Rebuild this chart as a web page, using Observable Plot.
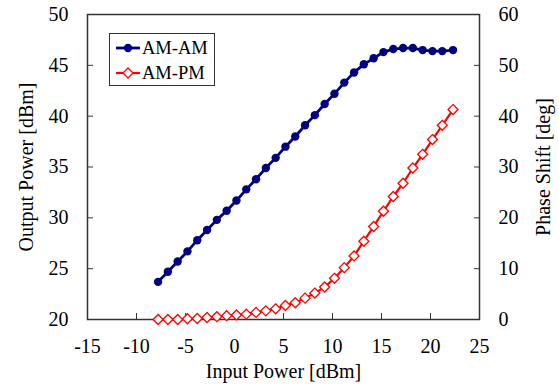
<!DOCTYPE html>
<html>
<head>
<meta charset="utf-8">
<script src="https://cdn.jsdelivr.net/npm/d3@7"></script>
<script src="https://cdn.jsdelivr.net/npm/@observablehq/plot@0.6"></script>
<style>
  html, body { margin: 0; padding: 0; background: #fff; }
  #wrap { position: relative; width: 559px; height: 385px; font-family: 'Liberation Serif', 'Times New Roman', serif; }
  #legend { position: absolute; left: 109px; top: 33px; width: 106px; height: 53px; border: 1px solid #333; background: #fff; box-sizing: border-box; }
  .item { position: absolute; left: 0; height: 24px; display: flex; align-items: center; font-size: 18.5px; color: #000; }
  .item svg { margin-left: 6px; margin-right: 2px; }
</style>
</head>
<body>
<div id="wrap">
  <div id="chart"></div>
  <div id="legend"></div>
</div>
<script>
// ---- data ----
const inputPower = [-7.8, -6.8, -5.8, -4.8, -3.8, -2.8, -1.8, -0.8, 0.2, 1.2, 2.2, 3.2, 4.2, 5.2, 6.2, 7.2, 8.2, 9.2, 10.2, 11.2, 12.2, 13.2, 14.2, 15.2, 16.2, 17.2, 18.2, 19.2, 20.2, 21.2, 22.3];
const outputPower = [23.7, 24.7, 25.7, 26.7, 27.8, 28.8, 29.8, 30.7, 31.7, 32.8, 33.8, 34.9, 35.9, 37.0, 38.0, 39.1, 40.1, 41.2, 42.2, 43.3, 44.3, 45.1, 45.7, 46.3, 46.6, 46.7, 46.7, 46.5, 46.4, 46.4, 46.5];
const phaseShift = [0, 0, 0, 0.15, 0.2, 0.4, 0.55, 0.75, 0.9, 1.05, 1.4, 1.7, 2.1, 2.75, 3.3, 4.2, 5.2, 6.4, 8.1, 10.2, 12.5, 15.4, 18.3, 21.3, 24.2, 26.8, 29.8, 32.5, 35.4, 38.2, 41.3];
const xTicks = [-15, -10, -5, 0, 5, 10, 15, 20, 25];
const leftTicks = [20, 25, 30, 35, 40, 45, 50];
const rightTicks = [0, 10, 20, 30, 40, 50, 60];
const seriesNames = ["AM-AM", "AM-PM"];
const seriesColors = ["#000080", "#ff0000"];
const xLabel = "Input Power [dBm]";
const yLeftLabel = "Output Power [dBm]";
const yRightLabel = "Phase Shift [deg]";

const leftDomain = [20, 50];
const rightDomain = [0, 60];
const toLeft = v => leftDomain[0] + (v - rightDomain[0]) * (leftDomain[1] - leftDomain[0]) / (rightDomain[1] - rightDomain[0]);
const fromLeft = v => rightDomain[0] + (v - leftDomain[0]) * (rightDomain[1] - rightDomain[0]) / (leftDomain[1] - leftDomain[0]);

const amam = inputPower.map((x, i) => ({x, y: outputPower[i]}));
const ampm = inputPower.map((x, i) => ({x, y: toLeft(phaseShift[i])}));

const font = "'Liberation Serif', 'Times New Roman', serif";
const labelOpts = {text: d => d, fontSize: 20, fill: "#000", textAnchor: "middle", lineAnchor: "middle"};

const chart = Plot.plot({
  width: 559,
  height: 385,
  marginLeft: 87,
  marginRight: 80,
  marginTop: 14,
  marginBottom: 66,
  style: {fontFamily: font, fontSize: "20px", color: "#000", background: "#fff"},
  x: {domain: [-15, 25]},
  y: {domain: leftDomain},
  marks: [
    Plot.axisX(xTicks, {tickSize: -6, tickPadding: 25, fontSize: 20, tickFormat: d => String(d), label: null, stroke: "#333"}),
    Plot.axisY(leftTicks, {anchor: "left", tickSize: -6, tickPadding: 25, fontSize: 20, tickFormat: d => String(d), label: null, stroke: "#333"}),
    Plot.axisY(rightTicks.map(toLeft), {anchor: "right", tickSize: -6, tickPadding: 25, fontSize: 20, tickFormat: d => String(fromLeft(d)), label: null, stroke: "#333"}),
    Plot.text([xLabel], {...labelOpts, frameAnchor: "bottom", dy: 52}),
    Plot.text([yLeftLabel], {...labelOpts, frameAnchor: "left", dx: -61, rotate: -90}),
    Plot.text([yRightLabel], {...labelOpts, frameAnchor: "right", dx: 64, rotate: -90}),
    Plot.frame({stroke: "#333", strokeWidth: 1.5}),
    Plot.line(amam, {x: "x", y: "y", stroke: seriesColors[0], strokeWidth: 2.8}),
    Plot.dot(amam, {x: "x", y: "y", r: 4.2, fill: seriesColors[0], stroke: "none"}),
    Plot.line(ampm, {x: "x", y: "y", stroke: seriesColors[1], strokeWidth: 2.2}),
    Plot.dot(ampm, {x: "x", y: "y", symbol: "diamond2", r: 4.5, fill: "#fff", stroke: seriesColors[1], strokeWidth: 1.3})
  ]
});
document.getElementById("chart").appendChild(chart);

// legend overlay
const legend = document.getElementById("legend");
seriesNames.forEach((name, i) => {
  const item = document.createElement("div");
  item.className = "item";
  item.style.top = (2 + i * 25) + "px";
  const marker = i === 0
    ? `<circle cx="12" cy="6" r="4.2" fill="${seriesColors[0]}"/>`
    : `<path d="M12,1 L17,6 L12,11 L7,6 Z" fill="#fff" stroke="${seriesColors[1]}" stroke-width="1.3"/>`;
  item.innerHTML = `<svg width="24" height="12" viewBox="0 0 24 12"><line x1="0" y1="6" x2="24" y2="6" stroke="${seriesColors[i]}" stroke-width="${i === 0 ? 2.8 : 2.2}"/>${marker}</svg><span>${name}</span>`;
  legend.appendChild(item);
});
</script>
</body>
</html>
